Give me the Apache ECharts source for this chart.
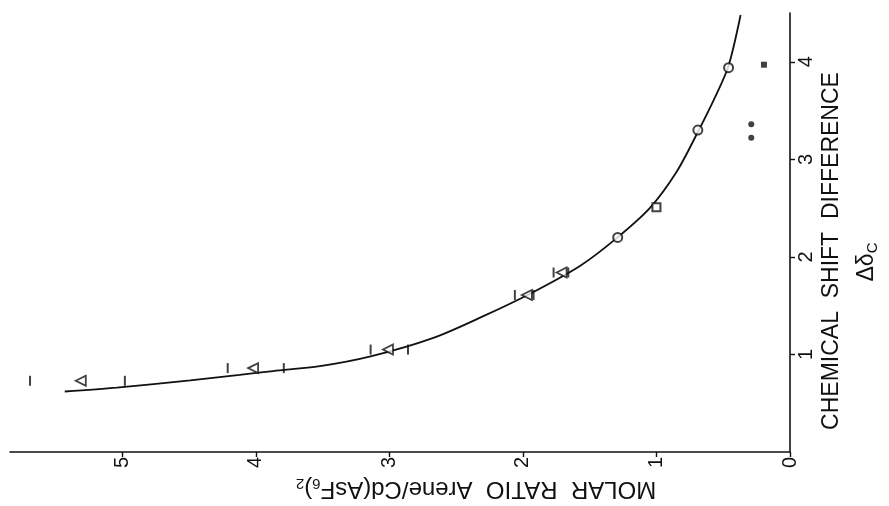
<!DOCTYPE html>
<html>
<head>
<meta charset="utf-8">
<script src="https://cdn.jsdelivr.net/npm/echarts@6/dist/echarts.min.js"></script>
<style>
  html, body { margin: 0; padding: 0; background: #fff; }
  #chart { width: 889px; height: 506px; }
</style>
</head>
<body>
<div id="chart"></div>
<script>
// figure is printed turned a quarter turn: molar ratio runs right-to-left along the bottom,
// chemical shift difference runs up the right-hand side

// fitted curve
const curveMolar = [5.43, 5.04, 4.49, 4.12, 3.87, 3.52, 3.14, 2.67, 2.30, 1.95, 1.57, 1.30, 1.05, 0.85, 0.69, 0.56, 0.46, 0.37];
const curveShift = [0.62, 0.66, 0.735, 0.79, 0.83, 0.88, 0.98, 1.17, 1.39, 1.62, 1.91, 2.19, 2.50, 2.87, 3.28, 3.64, 3.96, 4.48];

// open triangles with error caps
const triMolar = [5.31, 4.02, 3.01, 1.97, 1.71];
const triShift = [0.73, 0.86, 1.05, 1.61, 1.84];
const capHigh = [5.69, 4.21, 3.14, 2.06, 1.77];
const capLow = [4.98, 3.79, 2.86, 1.92, 1.66];

// open circles / square
const circMolar = [1.29, 0.69, 0.46];
const circShift = [2.20, 3.30, 3.94];
const sqMolar = [1.00];
const sqShift = [2.51];

// filled points
const dotMolar = [0.29, 0.29];
const dotShift = [3.36, 3.22];
const fsqMolar = [0.195];
const fsqShift = [3.97];

const molarTicks = [0, 1, 2, 3, 4, 5];
const shiftTicks = [0, 1, 2, 3, 4];

const zip = (a, b) => a.map((v, i) => [v, b[i]]);

const font = '"Liberation Sans", Arial, sans-serif';
const ink = '#111';

const chart = echarts.init(document.getElementById('chart'));

const option = {
  animation: false,
  backgroundColor: '#fff',
  grid: { left: 10, right: 99, top: 13, bottom: 54 },
  xAxis: {
    type: 'value',
    inverse: true,
    min: 0,
    max: 5.84,
    interval: 1,
    position: 'bottom',
    axisLine: { lineStyle: { color: ink, width: 1.6 } },
    axisTick: { inside: false, length: 5, lineStyle: { color: ink, width: 1.4 } },
    axisLabel: {
      rotate: 90,
      color: ink,
      fontFamily: font,
      fontSize: 20,
      margin: 5,
      showMaxLabel: false,
      formatter: (v) => (molarTicks.indexOf(v) >= 0 ? String(v) : '')
    },
    splitLine: { show: false }
  },
  yAxis: {
    type: 'value',
    min: 0,
    max: 4.5,
    interval: 1,
    position: 'right',
    axisLine: { lineStyle: { color: ink, width: 1.6 } },
    axisTick: { inside: false, length: 5, lineStyle: { color: ink, width: 1.4 } },
    axisLabel: {
      rotate: 90,
      color: ink,
      fontFamily: font,
      fontSize: 20,
      margin: 6,
      showMinLabel: false,
      showMaxLabel: false,
      formatter: (v) => (shiftTicks.indexOf(v) > 0 ? String(v) : '')
    },
    splitLine: { show: false }
  },
  graphic: [
    {
      type: 'text',
      x: 832, y: 251,
      rotation: Math.PI / 2,
      style: {
        text: 'CHEMICAL  SHIFT  DIFFERENCE',
        fontFamily: font, fontSize: 23, fill: ink,
        align: 'center', verticalAlign: 'middle'
      }
    },
    {
      type: 'text',
      x: 867, y: 262,
      rotation: Math.PI / 2,
      style: {
        text: 'Δδ{s|C}',
        fontFamily: font, fontSize: 23, fill: ink,
        align: 'center', verticalAlign: 'middle',
        rich: { s: { fontFamily: font, fontSize: 15, fill: ink, padding: [12, 0, 0, 0] } }
      }
    },
    {
      type: 'text',
      x: 476, y: 489,
      rotation: Math.PI,
      style: {
        text: 'MOLAR  RATIO  Arene/Cd(AsF{s|6}){s|2}',
        fontFamily: font, fontSize: 24, fill: ink,
        align: 'center', verticalAlign: 'middle',
        rich: { s: { fontFamily: font, fontSize: 15, fill: ink, padding: [12, 0, 0, 0] } }
      }
    }
  ],
  series: [
    {
      type: 'line',
      data: zip(curveMolar, curveShift),
      smooth: 0.3,
      showSymbol: false,
      lineStyle: { color: ink, width: 1.8 },
      z: 2
    },
    {
      type: 'scatter',
      data: zip(capHigh, triShift).concat(zip(capLow, triShift)),
      symbol: 'rect',
      symbolSize: [2, 10],
      itemStyle: { color: ink },
      z: 3
    },
    {
      type: 'scatter',
      data: zip(triMolar, triShift),
      symbol: 'triangle',
      symbolRotate: 90,
      symbolSize: 10,
      itemStyle: { color: '#fff', borderColor: ink, borderWidth: 1.8 },
      z: 4
    },
    {
      type: 'scatter',
      data: zip(circMolar, circShift),
      symbol: 'circle',
      symbolSize: 9,
      itemStyle: { color: '#fff', borderColor: ink, borderWidth: 2 },
      z: 4
    },
    {
      type: 'scatter',
      data: zip(sqMolar, sqShift),
      symbol: 'rect',
      symbolSize: 8,
      itemStyle: { color: '#fff', borderColor: ink, borderWidth: 2 },
      z: 4
    },
    {
      type: 'scatter',
      data: zip(dotMolar, dotShift),
      symbol: 'circle',
      symbolSize: 6,
      itemStyle: { color: ink },
      z: 4
    },
    {
      type: 'scatter',
      data: zip(fsqMolar, fsqShift),
      symbol: 'rect',
      symbolSize: 6,
      itemStyle: { color: ink },
      z: 4
    }
  ]
};

chart.setOption(option);
</script>
</body>
</html>
